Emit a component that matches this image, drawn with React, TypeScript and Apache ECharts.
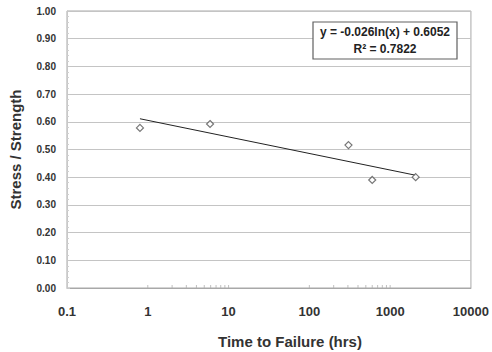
import React, { useEffect, useRef } from "react";
import * as echarts from "echarts";

const timeHrs = [0.8, 5.9, 305, 600, 2070];
const stressRatio = [0.578, 0.592, 0.516, 0.39, 0.4];
const trendX = [0.8, 2070];
const trendY = [0.611, 0.407];
const minorTickX = [1, 2, 3, 4, 5, 6, 7, 8, 9, 10, 100, 200, 300, 400, 500, 600, 700, 800, 900, 1000];
const equationText = "y = -0.026ln(x) + 0.6052";
const r2Text = "R² = 0.7822";
const xTitle = "Time to Failure (hrs)";
const yTitle = "Stress / Strength";

const FONT = "'Liberation Sans', Arial, sans-serif";

export default function App() {
  const ref = useRef<HTMLDivElement>(null);
  useEffect(() => {
    if (!ref.current) return;
    const chart = echarts.init(ref.current, undefined, { renderer: "svg" });
    chart.setOption({
      animation: false,
      backgroundColor: "#ffffff",
      textStyle: { fontFamily: FONT },
      grid: {
        left: 64,
        right: 19,
        top: 11,
        bottom: 64,
        show: true,
        borderColor: "#a8a8a8",
        borderWidth: 1,
      },
      xAxis: {
        type: "log",
        logBase: 10,
        min: 0.1,
        max: 10000,
        axisLine: { show: true, lineStyle: { color: "#a8a8a8" } },
        axisTick: { show: false },
        splitLine: { show: false },
        axisLabel: {
          margin: 17,
          fontSize: 13,
          fontWeight: "bold",
          color: "#333",
          fontFamily: FONT,
          formatter: (v: number) => String(v),
        },
      },
      yAxis: {
        type: "value",
        min: 0,
        max: 1,
        interval: 0.1,
        name: yTitle,
        nameLocation: "middle",
        nameGap: 44,
        nameRotate: 90,
        nameTextStyle: { fontSize: 15, fontWeight: "bold", color: "#333", fontFamily: FONT },
        axisLine: { show: true, lineStyle: { color: "#c8c8c8" } },
        axisTick: { show: true, inside: true, length: 3, lineStyle: { color: "#c8c8c8" } },
        minorTick: { show: true, splitNumber: 5, length: 2, lineStyle: { color: "#d0d0d0" } },
        splitLine: { show: true, lineStyle: { color: "#c4c4c4", width: 1 } },
        axisLabel: {
          margin: 11,
          fontSize: 10,
          fontWeight: "bold",
          color: "#333",
          fontFamily: FONT,
          formatter: (v: number) => v.toFixed(2),
        },
      },
      series: [
        {
          type: "scatter",
          data: minorTickX.map((x) => [x, 0]),
          symbol: "rect",
          symbolSize: [1, 3],
          symbolOffset: [0, -1.5],
          itemStyle: { color: "#b0b0b0" },
          silent: true,
          z: 1,
        },
        {
          type: "line",
          data: trendX.map((x, i) => [x, trendY[i]]),
          showSymbol: false,
          symbol: "none",
          lineStyle: { color: "#222", width: 1 },
          silent: true,
          z: 2,
        },
        {
          type: "scatter",
          data: timeHrs.map((x, i) => [x, stressRatio[i]]),
          symbol: "diamond",
          symbolSize: 7,
          itemStyle: { color: "#ffffff", borderColor: "#555", borderWidth: 1.2 },
          z: 3,
        },
      ],
      graphic: [
        {
          type: "text",
          x: 290,
          y: 341,
          style: {
            text: xTitle,
            align: "center",
            verticalAlign: "middle",
            fontSize: 15,
            fontWeight: "bold",
            fill: "#333",
            fontFamily: FONT,
          },
        },
        {
          type: "rect",
          shape: { x: 313, y: 22, width: 144, height: 37 },
          style: { fill: "#ffffff", stroke: "#606060", lineWidth: 1.2 },
          z: 10,
        },
        {
          type: "text",
          x: 385,
          y: 32,
          style: {
            text: equationText,
            align: "center",
            verticalAlign: "middle",
            fontSize: 12,
            fontWeight: "bold",
            fill: "#222",
            fontFamily: FONT,
          },
          z: 11,
        },
        {
          type: "text",
          x: 385,
          y: 49,
          style: {
            text: r2Text,
            align: "center",
            verticalAlign: "middle",
            fontSize: 12,
            fontWeight: "bold",
            fill: "#222",
            fontFamily: FONT,
          },
          z: 11,
        },
      ],
    });
    return () => chart.dispose();
  }, []);
  return <div ref={ref} style={{ width: 492, height: 352, position: "absolute", left: 0, top: 0 }} />;
}
